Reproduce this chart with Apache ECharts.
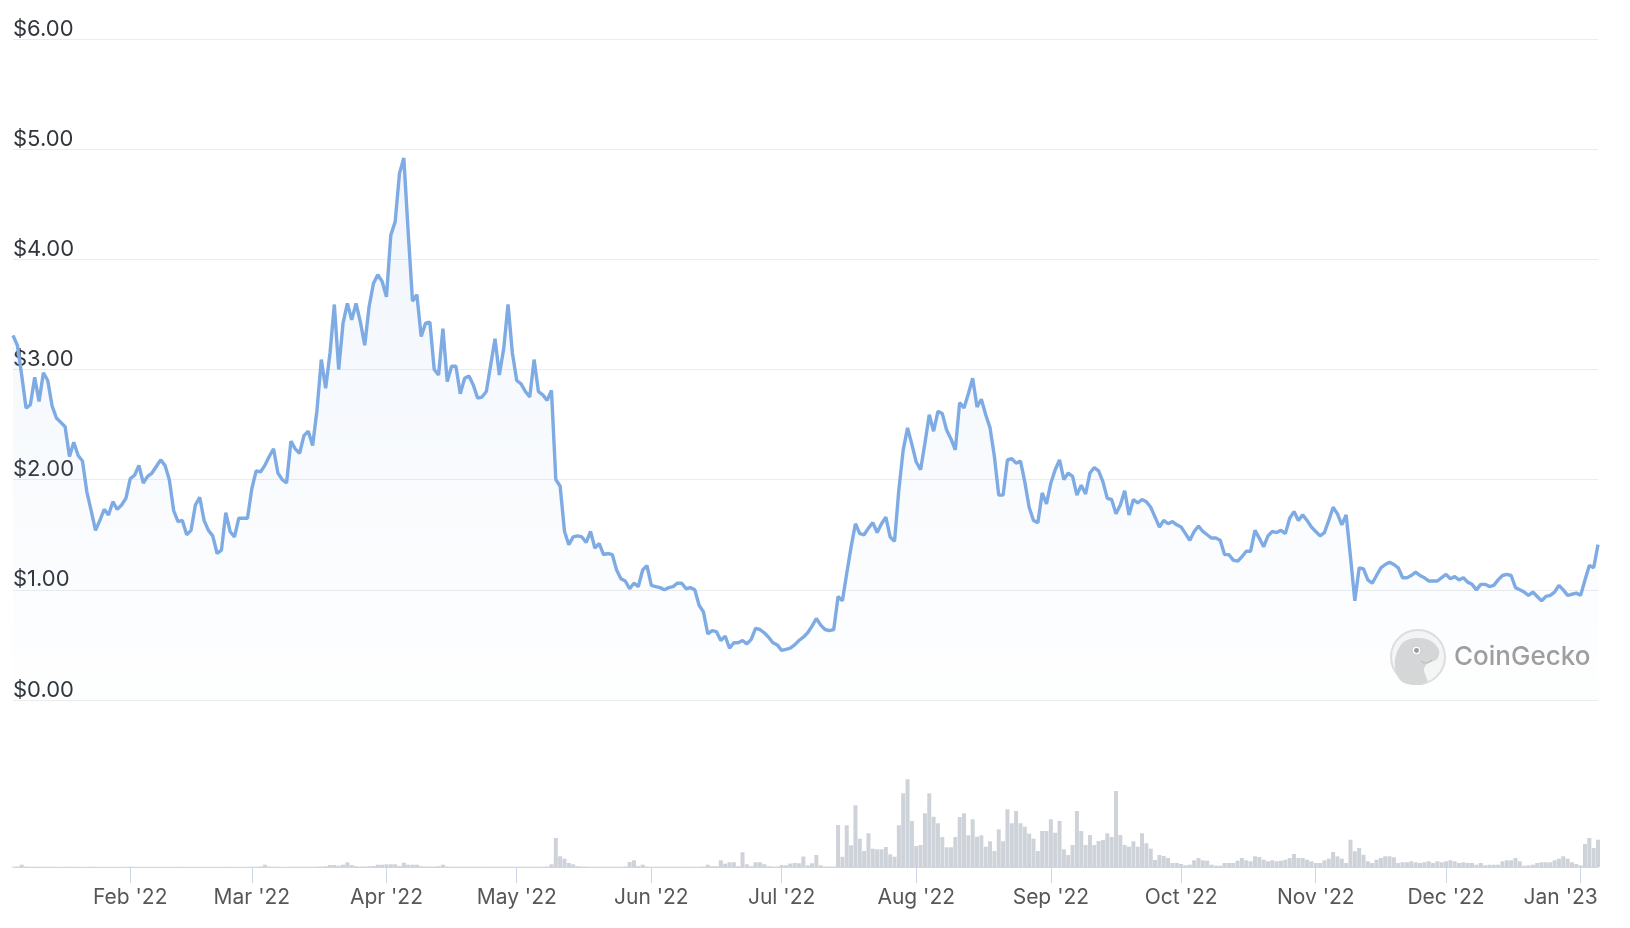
<!DOCTYPE html>
<html><head><meta charset="utf-8">
<script src="https://cdn.jsdelivr.net/npm/echarts@6/dist/echarts.min.js"></script>
<style>html,body{margin:0;padding:0;background:#fff;}#c{width:1630px;height:928px;}</style>
</head><body><div id="c"></div>
<script>
// ---- data ----
const startDate = '2022-01-05'; // first daily point
const yTicks = [0, 1, 2, 3, 4, 5, 6];
const monthNames = ['Jan','Feb','Mar','Apr','May','Jun','Jul','Aug','Sep','Oct','Nov','Dec'];

const priceJan22 = [3.31,3.22,2.95,2.65,2.68,2.93,2.71,2.97,2.90,2.67,2.56,2.52,2.48,2.21,2.34,2.22,2.17,1.89,1.72,1.54,1.63,1.73,1.68,1.80,1.73,1.77,1.83];
const priceFeb22 = [2.01,2.04,2.13,1.97,2.03,2.06,2.12,2.18,2.13,2.00,1.72,1.62,1.63,1.50,1.54,1.77,1.84,1.63,1.54,1.49,1.33,1.36,1.70,1.53,1.48,1.65,1.65,1.65];
const priceMar22 = [1.92,2.08,2.07,2.13,2.21,2.28,2.06,2.00,1.97,2.35,2.28,2.24,2.40,2.44,2.31,2.63,3.09,2.83,3.15,3.59,3.00,3.42,3.60,3.45,3.60,3.43,3.22,3.57,3.78,3.86,3.80];
const priceApr22 = [3.66,4.22,4.34,4.78,4.92,4.25,3.62,3.68,3.30,3.42,3.43,3.00,2.95,3.37,2.89,3.03,3.03,2.78,2.92,2.94,2.86,2.74,2.75,2.80,3.04,3.28,2.95,3.19,3.59,3.15];
const priceMay22 = [2.90,2.87,2.80,2.75,3.09,2.80,2.77,2.72,2.81,2.00,1.94,1.53,1.41,1.48,1.49,1.48,1.43,1.53,1.38,1.42,1.32,1.33,1.32,1.18,1.10,1.08,1.01,1.06,1.03,1.18,1.22];
const priceJun22 = [1.04,1.03,1.02,1.00,1.02,1.03,1.06,1.06,1.01,1.02,1.00,0.86,0.80,0.60,0.63,0.62,0.54,0.58,0.47,0.52,0.52,0.54,0.51,0.55,0.65,0.64,0.61,0.57,0.52,0.50];
const priceJul22 = [0.45,0.46,0.47,0.50,0.54,0.57,0.61,0.67,0.74,0.68,0.64,0.63,0.64,0.94,0.90,1.15,1.39,1.60,1.51,1.50,1.56,1.61,1.52,1.60,1.66,1.48,1.44,1.91,2.27,2.47,2.32];
const priceAug22 = [2.16,2.09,2.33,2.59,2.44,2.62,2.60,2.45,2.37,2.27,2.70,2.65,2.78,2.92,2.66,2.73,2.59,2.47,2.21,1.86,1.86,2.18,2.19,2.15,2.17,1.98,1.75,1.63,1.61,1.88,1.78];
const priceSep22 = [1.97,2.09,2.18,2.00,2.06,2.03,1.86,1.95,1.87,2.06,2.11,2.08,1.98,1.83,1.82,1.69,1.77,1.90,1.68,1.82,1.79,1.82,1.80,1.75,1.66,1.57,1.63,1.60,1.62,1.59];
const priceOct22 = [1.57,1.51,1.45,1.53,1.58,1.53,1.50,1.47,1.47,1.45,1.32,1.32,1.27,1.26,1.30,1.35,1.35,1.54,1.47,1.39,1.49,1.53,1.52,1.54,1.51,1.65,1.71,1.63,1.68,1.63,1.57];
const priceNov22 = [1.53,1.49,1.52,1.63,1.75,1.69,1.59,1.68,1.30,0.90,1.20,1.19,1.09,1.06,1.13,1.20,1.23,1.25,1.23,1.20,1.11,1.11,1.13,1.16,1.13,1.11,1.08,1.08,1.08,1.11];
const priceDec22 = [1.14,1.10,1.12,1.09,1.11,1.07,1.05,1.00,1.05,1.05,1.03,1.04,1.09,1.13,1.14,1.13,1.02,1.00,0.98,0.95,0.98,0.94,0.90,0.94,0.95,0.98,1.04,1.00,0.95,0.96,0.97];
const priceJan23 = [0.95,1.09,1.22,1.20,1.41];

const volJan22 = [0.3,0.5,2.3,0.5,0.3,0.3,0.2,0.2,0.3,0.2,0.2,0.2,0.2,0.3,0.2,0.2,0.2,0.2,0.3,0.2,0.2,0.2,0.2,0.2,0.2,0.2,0.2];
const volFeb22 = [0.3,0.2,0.2,0.2,0.2,0.2,0.2,0.2,0.2,0.2,0.2,0.2,0.2,0.2,0.2,0.2,0.2,0.2,0.2,0.2,0.2,0.2,0.2,0.2,0.2,0.2,0.2,0.2];
const volMar22 = [0.3,0.3,0.5,2.3,0.5,0.3,0.3,0.2,0.2,0.3,0.3,0.3,0.3,0.3,0.3,0.5,0.5,0.8,2.0,2.0,1.3,2.3,4.7,2.0,0.8,0.5,0.5,0.8,1.0,2.3,2.3];
const volApr22 = [2.7,2.7,2.7,1.0,4.3,2.3,2.3,2.3,0.8,0.5,0.5,0.5,0.8,2.3,0.5,0.3,0.3,0.3,0.3,0.3,0.3,0.3,0.3,0.3,0.3,0.3,0.3,0.3,0.3,0.3];
const volMay22 = [0.3,0.3,0.3,0.3,0.3,0.3,0.3,0.5,2.7,29,10.7,8.3,4,2.7,0.8,0.5,0.5,0.3,0.3,0.3,0.3,0.3,0.3,0.3,0.3,0.5,5,6.7,0.8,2.3,0.5];
const volJun22 = [0.3,0.3,0.3,0.3,0.3,0.3,0.3,0.3,0.3,0.3,0.3,0.3,0.5,2.3,0.8,0.8,6.7,3.3,4.7,4.7,0.8,14.7,2.7,0.8,4.7,4.7,2.7,0.8,0.5,0.5];
const volJul22 = [2.0,1.7,3.5,4.0,3.7,10.5,1.7,3.7,12,1.7,0.5,0.5,0.5,42,10.3,41.7,21.7,61.7,28.3,16,33.7,18.3,17.7,17.7,20,12.7,10.3,41.7,73.7,87.7,46];
const volAug22 = [21,22,53.7,73.7,50.3,43.7,30,19.7,19.7,30,50,53.7,31.7,47.7,30.3,31.7,20.3,25.7,16,37.7,25.7,57.7,43.7,56,43.7,40.3,33.3,28.3,16,36,36];
const volSep22 = [47.7,34.3,46,17.7,12,22,56,36,22,32,22,26,27,33.7,30,76,32,22,20.3,25.7,20.3,33.7,23.7,18.3,7,12,11,9,4,4];
const volOct22 = [3,1.7,2.3,6.7,9,6.7,6.3,2.3,1.3,1.3,4,4,4,6.3,9,6.7,5.7,10.7,10,7.3,5.7,6.7,5.7,6.3,7.3,9,13,9,9,7.3,5.7];
const volNov22 = [4,4,6.7,8.3,15,10.7,8.3,4,27.3,15.7,19,12.3,5.7,4,7.3,9,10.7,10.7,9.7,4,4.7,4.7,5.7,4.7,4,4.7,5.7,4,5.7,4.7];
const volDec22 = [5.7,6.7,5.7,4,4.7,4,4,2.3,4,1.7,2.3,2.3,2.3,5.7,6.7,6.7,9,5.7,1.3,1.7,2.3,4,4.7,4.7,4.7,6.7,8.3,10.7,8.3,4.7,3];
const volJan23 = [1.7,23,29,19,27.3];

// ---- build ----
const prices = [].concat(priceJan22, priceFeb22, priceMar22, priceApr22, priceMay22, priceJun22,
  priceJul22, priceAug22, priceSep22, priceOct22, priceNov22, priceDec22, priceJan23);
const volumes = [].concat(volJan22, volFeb22, volMar22, volApr22, volMay22, volJun22,
  volJul22, volAug22, volSep22, volOct22, volNov22, volDec22, volJan23);
const dates = [];
{
  const t0 = Date.parse(startDate + 'T00:00:00Z');
  for (let i = 0; i < prices.length; i++) {
    dates.push(new Date(t0 + i * 86400000).toISOString().slice(0, 10));
  }
}
const lastMonthStart = dates.filter(d => d.slice(8, 10) === '01').slice(-1)[0];
const isMonthStart = (idx, val) => val.slice(8, 10) === '01';
const FONT = 'Inter, "Liberation Sans", Arial, sans-serif';

const chart = echarts.init(document.getElementById('c'), null, { renderer: 'canvas' });
chart.setOption({
  animation: false,
  backgroundColor: '#ffffff',
  grid: [
    { left: 13, right: 32, top: 39, height: 661, outerBoundsMode: 'none', containLabel: false },
    { left: 13, right: 32, top: 767, height: 100, outerBoundsMode: 'none', containLabel: false }
  ],
  xAxis: [
    { type: 'category', gridIndex: 0, data: dates, boundaryGap: false,
      axisLine: { show: false }, axisTick: { show: false }, axisLabel: { show: false }, splitLine: { show: false } },
    { type: 'category', gridIndex: 1, data: dates, boundaryGap: false,
      axisLine: { show: true, lineStyle: { color: '#ccd6eb', width: 1 } },
      axisTick: { show: true, interval: isMonthStart, length: 16, lineStyle: { color: '#ccd6eb', width: 1 } },
      axisLabel: {
        show: true, interval: isMonthStart, hideOverlap: false, margin: 20,
        color: '#575757', fontSize: 21, fontFamily: FONT,
        formatter: function (val) {
          const s = monthNames[+val.slice(5, 7) - 1] + " '" + val.slice(2, 4);
          return val === lastMonthStart ? '{e|' + s + '}' : s;
        },
        rich: { e: { padding: [0, 40, 0, 0], fontSize: 21, fontFamily: FONT, color: '#575757' } }
      },
      splitLine: { show: false } }
  ],
  yAxis: [
    { type: 'value', gridIndex: 0, min: yTicks[0], max: yTicks[yTicks.length - 1], interval: 1,
      axisLine: { show: false }, axisTick: { show: false },
      splitLine: { show: true, lineStyle: { color: '#ececec', width: 1 } },
      axisLabel: { inside: true, margin: 0, verticalAlign: 'bottom', color: '#30353c',
        fontSize: 22, fontFamily: FONT, padding: [0, 0, -1, 0],
        formatter: v => '$' + v.toFixed(2) } },
    { type: 'value', gridIndex: 1, min: 0, max: 100, show: false, splitLine: { show: false } }
  ],
  series: [
    { type: 'line', xAxisIndex: 0, yAxisIndex: 0, data: prices, showSymbol: false, symbol: 'none',
      lineStyle: { color: '#7eabe4', width: 3.4 }, z: 3,
      areaStyle: { color: new echarts.graphic.LinearGradient(0, 0, 0, 1, [
        { offset: 0, color: 'rgba(126,171,228,0.16)' },
        { offset: 1, color: 'rgba(126,171,228,0.01)' }
      ]) } },
    { type: 'bar', xAxisIndex: 1, yAxisIndex: 1, data: volumes, barCategoryGap: '8%',
      itemStyle: { color: '#ced2d9' } }
  ],
  graphic: [
    { type: 'circle', shape: { cx: 1418, cy: 657, r: 27 }, style: { fill: '#f6f6f6', stroke: '#dedede', lineWidth: 2 }, z: 1 },
    { type: 'polygon', shape: { smooth: 0.35, points: [[1401,681],[1395,668],[1397,652],[1405,641],[1419,638],[1431,641],[1439,650],[1437,659],[1427,664],[1424,670],[1427,682],[1414,685]] },
      style: { fill: '#d7d7d7' }, z: 2 },
    { type: 'circle', shape: { cx: 1416.5, cy: 650.5, r: 4.5 }, style: { fill: '#ffffff', stroke: '#cccccc', lineWidth: 1 }, z: 3 },
    { type: 'circle', shape: { cx: 1416.5, cy: 650.5, r: 2.4 }, style: { fill: '#9a9a9a' }, z: 4 },
    { type: 'polyline', shape: { smooth: 0.5, points: [[1421,661],[1426,663],[1432,660]] }, style: { fill: null, stroke: '#bdbdbd', lineWidth: 1.2 }, z: 4 },
    { type: 'text', x: 1454, y: 657, style: { text: 'CoinGecko', fill: '#9e9e9e', font: '500 26px ' + FONT, verticalAlign: 'middle' }, z: 2 }
  ]
});
</script></body></html>
